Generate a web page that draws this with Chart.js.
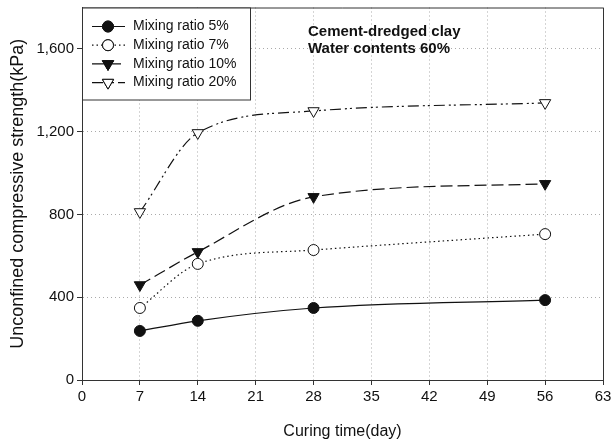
<!DOCTYPE html>
<html>
<head>
<meta charset="utf-8">
<script src="https://cdn.jsdelivr.net/npm/chart.js@4"></script>
<style>
  html, body { margin: 0; padding: 0; background: #fff; }
  #wrap { width: 611px; height: 445px; }
</style>
</head>
<body>
<div id="wrap"><canvas id="strengthChart" width="611" height="445"></canvas></div>
<script>
  // curing time (day) and strength (kPa)
  const curingDays = [7, 14, 28, 56];
  const ratio5 = [237, 286, 348, 386];
  const ratio7 = [348, 561, 628, 705];
  const ratio10 = [459, 619, 885, 948];
  const ratio20 = [812, 1194, 1300, 1339];
  const seriesLabels = ['Mixing ratio 5%', 'Mixing ratio 7%', 'Mixing ratio 10%', 'Mixing ratio 20%'];
  const noteLines = ['Cement-dredged clay', 'Water contents 60%'];

  const FONT = "'Liberation Sans', Arial, sans-serif";

  function toPoints(values) {
    return curingDays.map((d, i) => ({ x: d, y: values[i] }));
  }

  function series(label, values, style) {
    return Object.assign({
      label,
      data: toPoints(values),
      borderColor: '#111',
      borderWidth: 1.2,
      pointBorderColor: '#111',
      pointBorderWidth: 1,
      pointRadius: 5.5,
      pointHoverRadius: 5.5,
      cubicInterpolationMode: 'monotone',
      fill: false
    }, style);
  }

  // legend box, frame and note
  const extras = {
    id: 'extras',
    afterDraw(chart) {
      const { ctx, chartArea: a } = chart;
      ctx.save();
      ctx.strokeStyle = '#333';
      ctx.lineWidth = 1;
      ctx.beginPath();
      ctx.moveTo(a.left, a.top + 0.5);
      ctx.lineTo(a.right + 0.5, a.top + 0.5);
      ctx.lineTo(a.right + 0.5, a.bottom);
      ctx.stroke();

      // legend
      const bx = a.left + 0.5, by = a.top + 0.5, bw = 168, bh = 92;
      ctx.fillStyle = '#fff';
      ctx.fillRect(bx, by, bw, bh);
      ctx.strokeRect(bx, by, bw, bh);
      ctx.font = '14px ' + FONT;
      ctx.textBaseline = 'middle';
      chart.data.datasets.forEach((ds, i) => {
        const y = a.top + 19 + i * 18.7;
        ctx.save();
        ctx.strokeStyle = ds.borderColor;
        ctx.lineWidth = ds.borderWidth;
        ctx.setLineDash(ds.borderDash || []);
        ctx.beginPath();
        ctx.moveTo(a.left + 10, y);
        ctx.lineTo(a.left + 43, y);
        ctx.stroke();
        ctx.restore();
        Chart.helpers.drawPoint(ctx, {
          pointStyle: ds.pointStyle,
          rotation: ds.rotation || 0,
          radius: ds.pointRadius,
          borderWidth: 1
        }, a.left + 26, y);
        ctx.fillStyle = ds.pointBackgroundColor;
        ctx.strokeStyle = '#111';
        ctx.fill();
        ctx.stroke();
        ctx.fillStyle = '#111';
        ctx.fillText(ds.label, a.left + 51, y);
      });

      ctx.font = 'bold 15px ' + FONT;
      ctx.fillStyle = '#111';
      noteLines.forEach((t, i) => ctx.fillText(t, 308, 32 + i * 17));
      ctx.restore();
    }
  };

  new Chart(document.getElementById('strengthChart'), {
    type: 'line',
    data: {
      datasets: [
        series(seriesLabels[0], ratio5, { pointStyle: 'circle', pointBackgroundColor: '#111' }),
        series(seriesLabels[1], ratio7, { pointStyle: 'circle', pointBackgroundColor: '#fff', borderDash: [1.5, 3] }),
        series(seriesLabels[2], ratio10, { pointStyle: 'triangle', rotation: 180, pointRotation: 180, pointRadius: 6.5, pointBackgroundColor: '#111', borderDash: [12, 5] }),
        series(seriesLabels[3], ratio20, { pointStyle: 'triangle', rotation: 180, pointRotation: 180, pointRadius: 6.5, pointBackgroundColor: '#fff', borderDash: [11, 4, 2, 3, 2, 4] })
      ]
    },
    plugins: [extras],
    options: {
      responsive: false,
      animation: false,
      events: [],
      layout: { padding: { top: 6, right: 8, left: 0, bottom: 0 } },
      plugins: { legend: { display: false }, tooltip: { enabled: false } },
      scales: {
        x: {
          type: 'linear',
          min: 0,
          max: 63,
          ticks: { stepSize: 7, color: '#111', font: { family: FONT, size: 15 }, padding: 3, maxRotation: 0 },
          grid: { color: '#aaa', lineWidth: 1, tickColor: '#333', tickLength: 5 },
          border: { color: '#333', width: 1, dash: [1, 3] },
          title: { display: true, text: 'Curing time(day)', color: '#111', font: { family: FONT, size: 16 }, padding: { top: 4, bottom: 4 } },
          afterFit(scale) { scale.height = 65; scale.paddingLeft = 0; scale.paddingRight = 0; }
        },
        y: {
          min: 0,
          max: 1800,
          ticks: { stepSize: 400, color: '#111', font: { family: FONT, size: 15 }, padding: 3 },
          afterBuildTicks(scale) { scale.ticks = scale.ticks.filter(t => t.value % 400 === 0); },
          grid: { color: '#aaa', lineWidth: 1, tickColor: '#333', tickLength: 5 },
          border: { color: '#333', width: 1, dash: [1, 3] },
          title: { display: true, text: 'Unconfined compressive strength(kPa)', color: '#111', font: { family: FONT, size: 18 }, padding: { top: 7, bottom: 4 } },
          afterFit(scale) { scale.width = 82; scale.paddingTop = 0; scale.paddingBottom = 0; }
        }
      }
    }
  });
</script>
</body>
</html>
